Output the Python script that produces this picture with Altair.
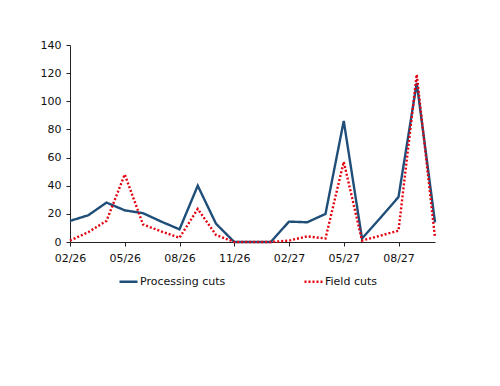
import altair as alt
import pandas as pd

months = ["02/26", "03/26", "04/26", "05/26", "06/26", "07/26", "08/26", "09/26", "10/26",
          "11/26", "12/26", "01/27", "02/27", "03/27", "04/27", "05/27", "06/27", "07/27",
          "08/27", "09/27", "10/27"]
processing = [15, 19, 28, 22.5, 20.5, 14.5, 9, 40, 13, 0, 0, 0, 14.5, 14, 20, 86, 2.5, 17, 32, 113, 14]
field = [1, 7, 15, 48, 12.5, 7.5, 3, 23.5, 5, 0, 0, 0, 1, 4, 2.5, 57, 1, 4.5, 8, 119, 3]
series_names = ["Processing cuts", "Field cuts"]
tick_idx = [0, 3, 6, 9, 12, 15, 18]
tick_labels = ["02/26", "05/26", "08/26", "11/26", "02/27", "05/27", "08/27"]
y_ticks = [0, 20, 40, 60, 80, 100, 120, 140]

rows = []
for i, (m, v) in enumerate(zip(months, processing)):
    rows.append({"idx": i, "month": m, "series": series_names[0], "value": v})
for i, (m, v) in enumerate(zip(months, field)):
    rows.append({"idx": i, "month": m, "series": series_names[1], "value": v})
df = pd.DataFrame(rows)

label_expr = "[" + ",".join("'%s'" % t for t in tick_labels) + "][round(datum.value/3)]"

legend_opts = dict(title=None, orient="none", legendX=48, legendY=226,
                   direction="horizontal", columnPadding=73,
                   symbolType="stroke", symbolSize=324, symbolStrokeWidth=2.4,
                   labelOffset=1, labelFontSize=11, labelFont="DejaVu Sans",
                   labelColor="#111", labelLimit=200)

chart = alt.Chart(df).mark_line(strokeWidth=2.4).encode(
    x=alt.X("idx:Q",
            scale=alt.Scale(domain=[0, len(months) - 1], nice=False, zero=False),
            axis=alt.Axis(values=tick_idx, labelExpr=label_expr, title=None, grid=False,
                          tickSize=4, labelPadding=6, labelFlush=False,
                          domainColor="#222", tickColor="#222",
                          labelColor="#111", labelFontSize=11, labelFont="DejaVu Sans")),
    y=alt.Y("value:Q",
            scale=alt.Scale(domain=[0, 140], nice=False),
            axis=alt.Axis(values=y_ticks, title=None, grid=False, tickSize=4, labelPadding=5,
                          domainColor="#222", tickColor="#222", labelColor="#111",
                          labelFontSize=11, labelFont="DejaVu Sans")),
    color=alt.Color("series:N",
                    scale=alt.Scale(domain=series_names, range=["#1F4E79", "#E3000F"]),
                    legend=alt.Legend(**legend_opts)),
    strokeDash=alt.StrokeDash("series:N",
                              scale=alt.Scale(domain=series_names, range=[[1, 0], [2, 2]]),
                              legend=alt.Legend(**legend_opts)),
).properties(
    width=365, height=197,
    autosize=alt.AutoSizeParams(type="none"),
    padding={"left": 62, "top": 37, "right": 50, "bottom": 120},
).configure(background="white").configure_view(stroke=None)

chart.save("out.html", embed_options={"renderer": "svg", "actions": False})
